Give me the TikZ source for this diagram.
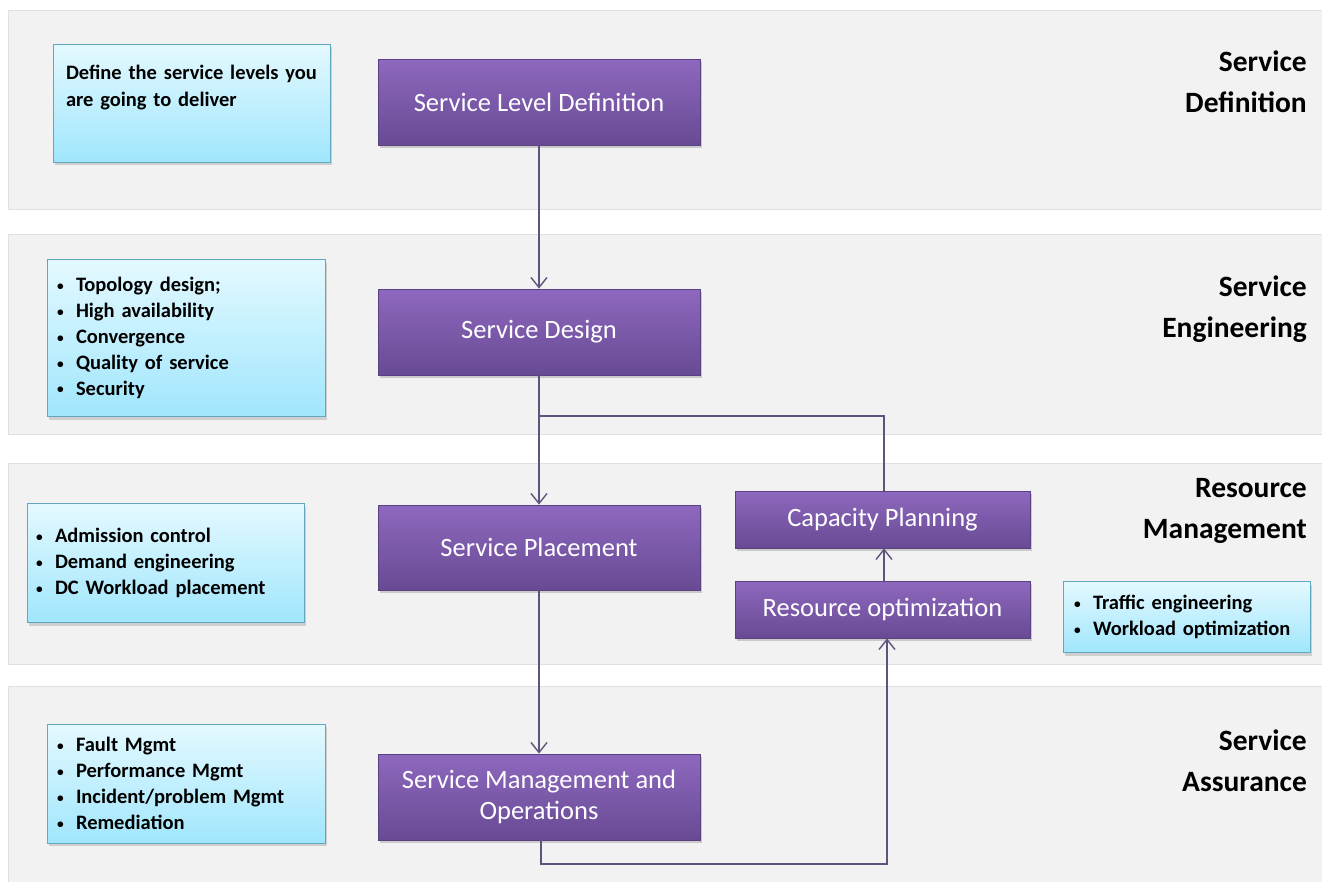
\documentclass[tikz,border=0pt]{standalone}
\usepackage{fontspec}
\setmainfont{Carlito}
\usetikzlibrary{arrows.meta,shadows,calc}
\definecolor{bandfill}{RGB}{242,242,242}
\definecolor{bandline}{RGB}{224,224,224}
\definecolor{ptop}{RGB}{142,104,190}
\definecolor{pbot}{RGB}{104,74,148}
\definecolor{pline}{RGB}{90,66,130}
\definecolor{btop}{RGB}{228,249,255}
\definecolor{bbot}{RGB}{160,230,252}
\definecolor{bline}{RGB}{96,168,192}
\definecolor{conn}{RGB}{96,82,122}
\tikzset{
  band/.style={fill=bandfill,draw=bandline,line width=1pt},
  procbox/.style={draw=pline,line width=0.8pt,top color=ptop,bottom color=pbot,
    text=white,font=\fontsize{26.5}{31}\selectfont,align=center,inner sep=0pt,
    drop shadow={shadow xshift=2pt,shadow yshift=-3pt,opacity=0.35}},
  notebox/.style={draw=bline,line width=1pt,top color=btop,bottom color=bbot,
    font=\bfseries\fontsize{20.5}{25.8}\selectfont,align=left,inner sep=0pt,
    drop shadow={shadow xshift=2pt,shadow yshift=-3pt,opacity=0.3}},
  phase/.style={font=\bfseries\fontsize{29.5}{41}\selectfont,align=right,anchor=east,inner sep=0pt},
  conline/.style={draw=conn,line width=1.4pt},
  arr/.style={conline,-{Straight Barb[length=10pt,width=16pt,line width=1.4pt]}}
}
\newcommand{\bul}{\makebox[19pt][l]{\raisebox{0.12ex}{\scalebox{0.65}{\textbullet}}}}
\begin{document}
\begin{tikzpicture}[x=1pt,y=-1pt]
\useasboundingbox (0,0) rectangle (1322,881);
\fill[white] (0,0) rectangle (1322,881);
% bands
\draw[band] (8,10) rectangle (1322,209);
\draw[band] (8,234) rectangle (1322,434);
\draw[band] (8,463) rectangle (1322,664);
\draw[band] (8,686) rectangle (1322,885);
% phase labels
\node[phase] (l1) at (1307,82) {Service\\Definition};
\node[phase] (l2) at (1307,309) {Service\\Engineering};
\node[phase] (l3) at (1307,511) {Resource\\Management};
\node[phase] (l4) at (1307,761) {Service\\Assurance};
% note boxes
\node[notebox,minimum width=277pt,minimum height=118pt,text width=251pt] (n1) at (191.5,103)
  {Define the service levels you\\[1.2pt] are going to deliver\\ \strut};
\node[notebox,minimum width=278pt,minimum height=157pt,text width=258pt] (n2) at (186,338)
  {\bul Topology design;\\ \bul High availability\\ \bul Convergence\\ \bul Quality of service\\ \bul Security};
\node[notebox,minimum width=277pt,minimum height=119pt,text width=259pt] (n3) at (165.5,563)
  {\bul Admission control\\ \bul Demand engineering\\ \bul DC Workload placement};
\node[notebox,minimum width=278pt,minimum height=119pt,text width=258pt] (n4) at (186,783.5)
  {\bul Fault Mgmt\\ \bul Performance Mgmt\\ \bul Incident/problem Mgmt\\ \bul Remediation};
\node[notebox,minimum width=247pt,minimum height=71pt,text width=225pt] (n5) at (1186.5,617)
  {\bul Traffic engineering\\ \bul Workload optimization};
% process boxes
\node[procbox,minimum width=322pt,minimum height=86pt] (sld) at (539,102) {Service Level Definition};
\node[procbox,minimum width=322pt,minimum height=86pt] (sd) at (539,332) {Service Design};
\node[procbox,minimum width=322pt,minimum height=85pt] (sp) at (539,547.5) {Service Placement};
\node[procbox,minimum width=322pt,minimum height=86pt] (smo) at (539,797) {Service Management and\\Operations};
\node[procbox,minimum width=295pt,minimum height=57pt] (cp) at (882.5,519.5) {Capacity Planning};
\node[procbox,minimum width=295pt,minimum height=57pt] (ro) at (882.5,609.5) {Resource optimization};
% connectors
\coordinate (j1) at (539,416);
\coordinate (c1) at (884,416);
\coordinate (b1) at (541,864);
\coordinate (b2) at (887,864);
\draw[arr] (sld.south) -- (sd.north);
\draw[arr] (sd.south) -- (sp.north);
\draw[conline] (cp.north -| c1) -- (c1) -- (j1);
\draw[arr] (sp.south) -- (smo.north);
\draw[arr] (smo.south -| b1) -- (b1) -- (b2) -- (ro.south -| b2);
\draw[arr] (ro.north -| c1) -- (cp.south -| c1);
\end{tikzpicture}
\end{document}
